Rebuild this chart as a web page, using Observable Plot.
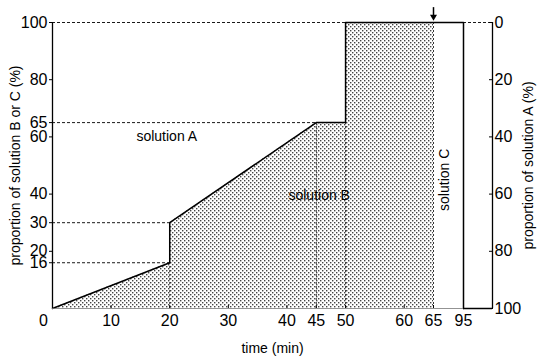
<!DOCTYPE html>
<html>
<head>
<meta charset="utf-8">
<script src="https://cdn.jsdelivr.net/npm/d3@7"></script>
<script src="https://cdn.jsdelivr.net/npm/@observablehq/plot@0.6"></script>
<style>
  html, body { margin: 0; padding: 0; background: #fff; }
  svg { font-family: "Liberation Sans", Arial, sans-serif; }
</style>
</head>
<body>
<div id="chart"></div>
<script>
// Gradient profile: proportion of solution B or C (%) vs time (min)
const shadeTime = [0, 20, 20, 45, 50, 50, 65];
const shadeProp = [0, 16, 30, 65, 65, 100, 100];

const lineTime = [0, 20, 20, 45, 50, 50, 65, 95, 95];
const lineProp = [0, 16, 30, 65, 65, 100, 100, 100, 0];

// dashed guide lines (horizontal: y, from x1 to x2; vertical: x, from 0 up to y2)
const hGuideY  = [100, 65, 30, 16, 100];
const hGuideX1 = [0, 0, 0, 0, 95];
const hGuideX2 = [50, 45, 20, 20, 100];
const vGuideX  = [20, 45, 50, 65];
const vGuideY2 = [16, 65, 65, 100];

const xTicks = [10, 20, 30, 40, 45, 50, 60, 65, 95];
const yTicksLeft = [16, 20, 30, 40, 60, 65, 80, 100];
const yTicksRight = [0, 20, 40, 60, 80, 100]; // labels shown as 100 - value

const labels = [
  {text: "solution A", x: 19.5, y: 60, rotate: 0},
  {text: "solution B", x: 45.5, y: 39.5, rotate: 0},
  {text: "solution C", x: 76, y: 45, rotate: -90}
];

const shade = shadeTime.map((t, i) => ({t, p: shadeProp[i]}));
const line = lineTime.map((t, i) => ({t, p: lineProp[i]}));
const hGuides = hGuideY.map((y, i) => ({y, x1: hGuideX1[i], x2: hGuideX2[i]}));
const vGuides = vGuideX.map((x, i) => ({x, y1: 0, y2: vGuideY2[i]}));

const svg = Plot.plot({
  width: 539,
  height: 360,
  marginLeft: 52,
  marginRight: 47,
  marginTop: 22,
  marginBottom: 52,
  style: {fontSize: "16px", fontFamily: "Liberation Sans, Arial, sans-serif", background: "#fff", color: "#000"},
  x: {type: "linear", domain: [0, 65, 95, 100], range: [52, 433, 463, 492]},
  y: {domain: [0, 100], range: [308, 22]},
  marks: [
    Plot.area(shade, {x1: "t", y1: 0, y2: "p", fill: "url(#dots)", curve: "linear"}),
    Plot.ruleY(hGuides, {y: "y", x1: "x1", x2: "x2", stroke: "#000", strokeWidth: 0.9, strokeDasharray: "3,2"}),
    Plot.ruleX(vGuides, {x: "x", y1: "y1", y2: "y2", stroke: "#000", strokeWidth: 0.8, strokeDasharray: "2,2"}),
    Plot.line(line, {x: "t", y: "p", stroke: "#000", strokeWidth: 1.5, curve: "linear"}),
    // frame: left axis, right axis, bottom baseline
    Plot.ruleX([0], {stroke: "#000", strokeWidth: 1.3}),
    Plot.ruleX([100], {stroke: "#000", strokeWidth: 1.3}),
    Plot.ruleY([0], {x1: 0, x2: 95, stroke: "#777", strokeWidth: 0.8}),
    Plot.ruleY([0], {x1: 95, x2: 100, stroke: "#000", strokeWidth: 1.5}),
    // marker arrow at 65 min
    Plot.ruleX([65], {y1: 105.2, y2: 102.2, stroke: "#000", strokeWidth: 1.5}),
    Plot.dot([65], {x: d => d, y: 102, symbol: "triangle", r: 2.6, rotate: 180, fill: "#000", stroke: "none"}),
    Plot.axisX({ticks: xTicks, tickSize: -3, tickPadding: 9, tickFormat: d => String(d), fontSize: 16, label: null}),
    Plot.text([0], {x: d => d, y: 0, text: d => String(d), dx: -9, dy: 12, fontSize: 16, lineAnchor: "middle"}),
    Plot.axisX({ticks: [], label: "time (min)", labelAnchor: "center", labelArrow: "none", labelOffset: 44, fontSize: 14}),
    Plot.axisY({anchor: "left", ticks: yTicksLeft, tickSize: 3, tickPadding: 2, tickFormat: d => String(d), fontSize: 16, label: null}),
    Plot.axisY({anchor: "left", ticks: [], label: "proportion of solution B or C (%)", labelAnchor: "center", labelArrow: "none", labelOffset: 42, fontSize: 14}),
    Plot.axisY({anchor: "right", ticks: yTicksRight, tickSize: -4, tickPadding: 6, tickFormat: d => String(100 - d), fontSize: 16, label: null}),
    Plot.axisY({anchor: "right", ticks: [], label: "proportion of solution A (%)", labelAnchor: "center", labelArrow: "none", labelOffset: 40, fontSize: 14}),
    Plot.text(labels, {x: "x", y: "y", text: "text", rotate: "rotate", fontSize: 14, fill: "#000"})
  ]
});

const defs = d3.select(svg).insert("defs", ":first-child");
const pat = defs.append("pattern")
  .attr("id", "dots").attr("patternUnits", "userSpaceOnUse")
  .attr("width", 4).attr("height", 4);
pat.append("rect").attr("width", 4).attr("height", 4).attr("fill", "#fff");
pat.append("rect").attr("x", 0).attr("y", 0).attr("width", 1.4).attr("height", 1.4).attr("fill", "#444");
pat.append("rect").attr("x", 2).attr("y", 2).attr("width", 1.4).attr("height", 1.4).attr("fill", "#444");

document.getElementById("chart").appendChild(svg);
</script>
</body>
</html>
